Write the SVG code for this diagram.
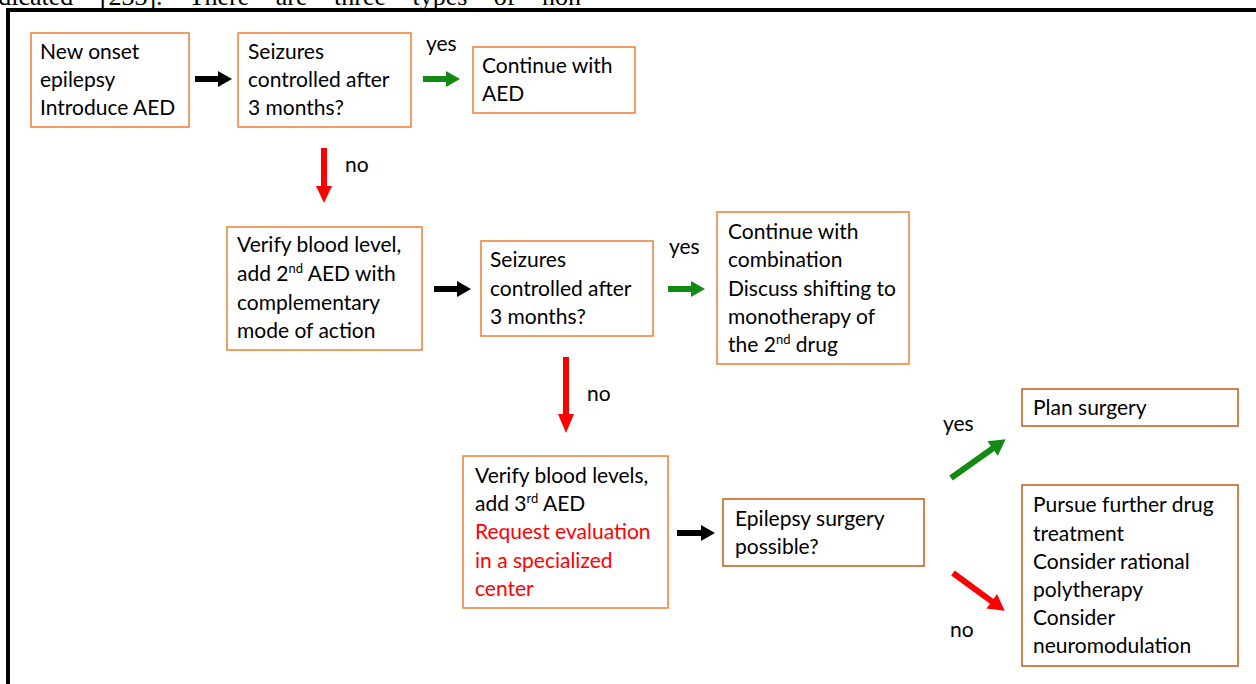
<svg xmlns="http://www.w3.org/2000/svg" width="1256" height="684" viewBox="0 0 1256 684">
<style>
.box{fill:#fff;stroke:#ED7D31;stroke-width:1.5}
.box2{fill:#fff;stroke:#C55A11;stroke-width:1.5}
.t{font-family:Lato,"Open Sans","Liberation Sans",sans-serif;font-size:21px;fill:#000}
.red{fill:#FF0000}
.sup{font-size:13px}
.lbl{font-family:Lato,"Open Sans","Liberation Sans",sans-serif;font-size:21px;fill:#000}
.ak{fill:#000}
.ag{fill:#138A13}
.ar{fill:#FF0000}
</style>
<rect width="1256" height="684" fill="#fff"/>
<text x="-22" y="5" font-family="Liberation Serif,serif" font-size="26" word-spacing="20" fill="#000">indicated [233]. There are three types of non</text>
<path d="M8,690 V10 H1262" fill="none" stroke="#000" stroke-width="4"/>

<g id="connectors">
  <polygon class="ak" points="195,76 218,76 218,71 232,79 218,87 218,82 195,82"/>
  <polygon class="ag" points="423,76 446,76 446,71 460,79 446,87 446,82 423,82"/>
  <text class="lbl" x="426" y="51">yes</text>
  <polygon class="ar" points="321,148 327,148 327,186 332,186 324,203 316,186 321,186"/>
  <text class="lbl" x="345" y="172">no</text>
  <polygon class="ak" points="434,286 457,286 457,281 471,289 457,297 457,292 434,292"/>
  <polygon class="ag" points="668,286 691,286 691,281 705,289 691,297 691,292 668,292"/>
  <text class="lbl" x="669" y="254">yes</text>
  <polygon class="ar" points="563,357 569,357 569,414 574,414 566,433 558,414 563,414"/>
  <text class="lbl" x="587" y="401">no</text>
  <polygon class="ak" points="677,530 701,530 701,525 715,533 701,541 701,536 677,536"/>
  <g transform="translate(951,478) rotate(-35.3)">
    <polygon class="ag" points="0,-3 51,-3 51,-9 67,0 51,9 51,3 0,3"/>
  </g>
  <text class="lbl" x="943" y="431">yes</text>
  <g transform="translate(953,573) rotate(36.2)">
    <polygon class="ar" points="0,-3 48,-3 48,-9 64,0 48,9 48,3 0,3"/>
  </g>
  <text class="lbl" x="950" y="637">no</text>
</g>

<g id="n1">
  <rect class="box" x="31" y="33" width="158" height="94"/>
  <text class="t" x="40" y="59">New onset</text>
  <text class="t" x="40" y="87">epilepsy</text>
  <text class="t" x="40" y="115">Introduce AED</text>
</g>
<g id="n2">
  <rect class="box" x="238" y="33" width="173" height="94"/>
  <text class="t" x="248" y="59">Seizures</text>
  <text class="t" x="248" y="87">controlled after</text>
  <text class="t" x="248" y="115">3 months?</text>
</g>
<g id="n3">
  <rect class="box" x="473" y="47" width="162" height="66"/>
  <text class="t" x="482" y="73">Continue with</text>
  <text class="t" x="482" y="101">AED</text>
</g>
<g id="n4">
  <rect class="box" x="227" y="227" width="195" height="123"/>
  <text class="t" x="237" y="252">Verify blood level,</text>
  <text class="t" x="237" y="281">add 2<tspan class="sup" dy="-8">nd</tspan><tspan dy="8"> AED with</tspan></text>
  <text class="t" x="237" y="310">complementary</text>
  <text class="t" x="237" y="338">mode of action</text>
</g>
<g id="n5">
  <rect class="box" x="481" y="241" width="172" height="95"/>
  <text class="t" x="490" y="267">Seizures</text>
  <text class="t" x="490" y="296">controlled after</text>
  <text class="t" x="490" y="324">3 months?</text>
</g>
<g id="n6">
  <rect class="box" x="717" y="212" width="192" height="152"/>
  <text class="t" x="728" y="239">Continue with</text>
  <text class="t" x="728" y="267">combination</text>
  <text class="t" x="728" y="296">Discuss shifting to</text>
  <text class="t" x="728" y="324">monotherapy of</text>
  <text class="t" x="728" y="352">the 2<tspan class="sup" dy="-8">nd</tspan><tspan dy="8"> drug</tspan></text>
</g>
<g id="n7">
  <rect class="box" x="463" y="456" width="205" height="152"/>
  <text class="t" x="475" y="483">Verify blood levels,</text>
  <text class="t" x="475" y="511">add 3<tspan class="sup" dy="-8">rd</tspan><tspan dy="8"> AED</tspan></text>
  <text class="t red" x="475" y="539">Request evaluation</text>
  <text class="t red" x="475" y="568">in a specialized</text>
  <text class="t red" x="475" y="596">center</text>
</g>
<g id="n8">
  <rect class="box2" x="723" y="499" width="201" height="67"/>
  <text class="t" x="735" y="526">Epilepsy surgery</text>
  <text class="t" x="735" y="554">possible?</text>
</g>
<g id="n9">
  <rect class="box2" x="1022" y="389" width="216" height="37"/>
  <text class="t" x="1033" y="415">Plan surgery</text>
</g>
<g id="n10">
  <rect class="box2" x="1022" y="485" width="216" height="181"/>
  <text class="t" x="1033" y="512">Pursue further drug</text>
  <text class="t" x="1033" y="541">treatment</text>
  <text class="t" x="1033" y="569">Consider rational</text>
  <text class="t" x="1033" y="597">polytherapy</text>
  <text class="t" x="1033" y="625">Consider</text>
  <text class="t" x="1033" y="653">neuromodulation</text>
</g>
</svg>
